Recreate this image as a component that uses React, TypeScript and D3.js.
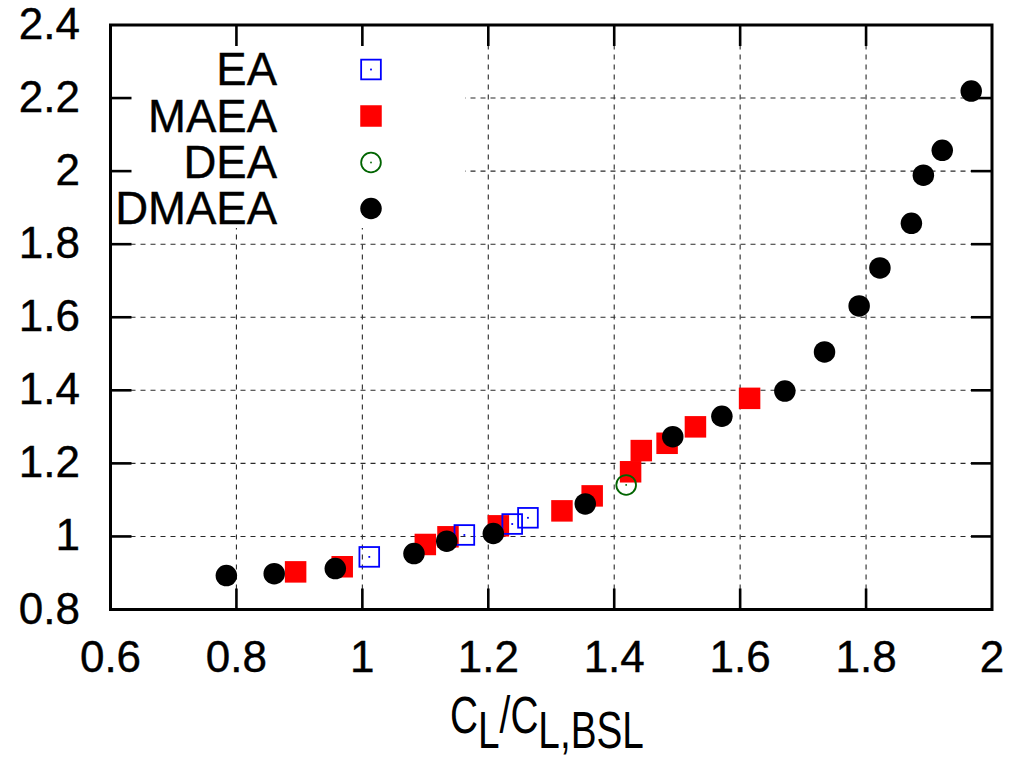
import React from "react";
import * as d3 from "d3";

// Series values (x = CL/CL,BSL, y = response)
const eaX = [1.011, 1.162, 1.238, 1.263];
const eaY = [0.944, 1.004, 1.034, 1.051];

const maeaX = [0.894, 0.968, 1.1, 1.136, 1.216, 1.317, 1.365, 1.426, 1.443, 1.484, 1.529, 1.615];
const maeaY = [0.903, 0.917, 0.978, 0.999, 1.029, 1.07, 1.111, 1.177, 1.235, 1.255, 1.3, 1.378];

const deaX = [1.419];
const deaY = [1.141];

const dmaeaX = [0.784, 0.86, 0.957, 1.082, 1.134, 1.208, 1.354, 1.493, 1.571, 1.671, 1.734, 1.789, 1.822, 1.872, 1.891, 1.921, 1.967];
const dmaeaY = [0.893, 0.898, 0.912, 0.953, 0.987, 1.008, 1.089, 1.273, 1.329, 1.398, 1.505, 1.631, 1.735, 1.857, 1.989, 2.057, 2.219];

const xTicks = [0.6, 0.8, 1, 1.2, 1.4, 1.6, 1.8, 2];
const yTicks = [0.8, 1, 1.2, 1.4, 1.6, 1.8, 2, 2.2, 2.4];
const legendLabels = ["EA", "MAEA", "DEA", "DMAEA"];

const W = 1018;
const H = 757;
const L = 110.5;
const R = 992;
const T = 25;
const B = 609.5;
const FONT = "'Liberation Sans', Arial, Helvetica, sans-serif";
const MS = 21.5; // marker size

const zip = (xs: number[], ys: number[]) => xs.map((x, i) => [x, ys[i]] as [number, number]);

function Marker({ kind, cx, cy }: { kind: string; cx: number; cy: number }) {
  const h = MS / 2;
  if (kind === "EA")
    return (
      <g>
        <rect x={cx - h + 0.9} y={cy - h + 0.9} width={MS - 1.8} height={MS - 1.8} fill="none" stroke="#0000ff" strokeWidth={1.8} />
        <rect x={cx - 0.9} y={cy - 0.9} width={1.8} height={1.8} fill="#0000ff" />
      </g>
    );
  if (kind === "MAEA") return <rect x={cx - h} y={cy - h} width={MS} height={MS} fill="#ff0000" />;
  if (kind === "DEA")
    return (
      <g>
        <circle cx={cx} cy={cy} r={h - 0.9} fill="none" stroke="#006400" strokeWidth={1.8} />
        <rect x={cx - 0.8} y={cy - 0.8} width={1.6} height={1.6} fill="#006400" />
      </g>
    );
  return <circle cx={cx} cy={cy} r={h} fill="#000" />;
}

export default function App() {
  const x = d3.scaleLinear().domain([0.6, 2]).range([L, R]);
  const y = d3.scaleLinear().domain([0.8, 2.4]).range([B, T]);
  const tickLen = 21;

  // draw order: MAEA, EA, DEA, DMAEA
  const layers: [string, [number, number][]][] = [
    ["MAEA", zip(maeaX, maeaY)],
    ["EA", zip(eaX, eaY)],
    ["DEA", zip(deaX, deaY)],
    ["DMAEA", zip(dmaeaX, dmaeaY)],
  ];

  const legendBase = [85, 131.5, 178, 224];

  return (
    <svg width={W} height={H} style={{ position: "absolute", left: 0, top: 0, background: "#fff" }} fontFamily={FONT}>
      <rect x={0} y={0} width={W} height={H} fill="#fff" />
      {/* grid */}
      <g stroke="#2a2a2a" strokeWidth={1.1} strokeDasharray="5,5">
        {xTicks.slice(1, -1).map((t) => (
          <line key={"gx" + t} x1={x(t)} x2={x(t)} y1={B} y2={T} />
        ))}
        {yTicks.slice(1, -1).map((t) => (
          <line key={"gy" + t} x1={L} x2={R} y1={y(t)} y2={y(t)} />
        ))}
      </g>
      {/* key background */}
      <rect x={L + 1.5} y={T + 1.5} width={465 - L - 1.5} height={228 - T - 1.5} fill="#fff" />
      {/* ticks on all sides */}
      <g stroke="#000" strokeWidth={2.6}>
        {xTicks.slice(1, -1).map((t) => (
          <g key={"tx" + t}>
            <line x1={x(t)} x2={x(t)} y1={B} y2={B - tickLen} />
            <line x1={x(t)} x2={x(t)} y1={T} y2={T + tickLen} />
          </g>
        ))}
        {yTicks.slice(1, -1).map((t) => (
          <g key={"ty" + t}>
            <line x1={L} x2={L + tickLen} y1={y(t)} y2={y(t)} />
            <line x1={R} x2={R - tickLen} y1={y(t)} y2={y(t)} />
          </g>
        ))}
      </g>
      {/* data */}
      {layers.map(([name, pts]) => (
        <g key={name}>
          {pts.map(([px, py], i) => (
            <Marker key={i} kind={name} cx={x(px)} cy={y(py)} />
          ))}
        </g>
      ))}
      {/* frame */}
      <rect x={L} y={T} width={R - L} height={B - T} fill="none" stroke="#000" strokeWidth={3} />
      {/* tick labels */}
      <g fontSize={44} fill="#000" stroke="#000" strokeWidth={0.4}>
        {xTicks.map((t) => (
          <text key={"lx" + t} x={x(t)} y={B + 62} textAnchor="middle">
            {String(t)}
          </text>
        ))}
        {yTicks.map((t) => (
          <text key={"ly" + t} x={80} y={y(t) + 14} textAnchor="end">
            {String(t)}
          </text>
        ))}
      </g>
      {/* key */}
      <g fontSize={45.5} fill="#000" stroke="#000" strokeWidth={0.4}>
        {legendLabels.map((name, i) => (
          <g key={name}>
            <text x={277} y={legendBase[i]} textAnchor="end">
              {name}
            </text>
            <g stroke="none">
              <Marker kind={name} cx={371} cy={legendBase[i] - 15.5} />
            </g>
          </g>
        ))}
      </g>
      {/* axis title */}
      <g transform="translate(547,733) scale(0.76,1)">
        <text x={0} y={0} fontSize={51} textAnchor="middle" fill="#000">
          <tspan>C</tspan>
          <tspan dy={15}>L</tspan>
          <tspan dy={-15}>/C</tspan>
          <tspan dy={15}>L,BSL</tspan>
        </text>
      </g>
    </svg>
  );
}
